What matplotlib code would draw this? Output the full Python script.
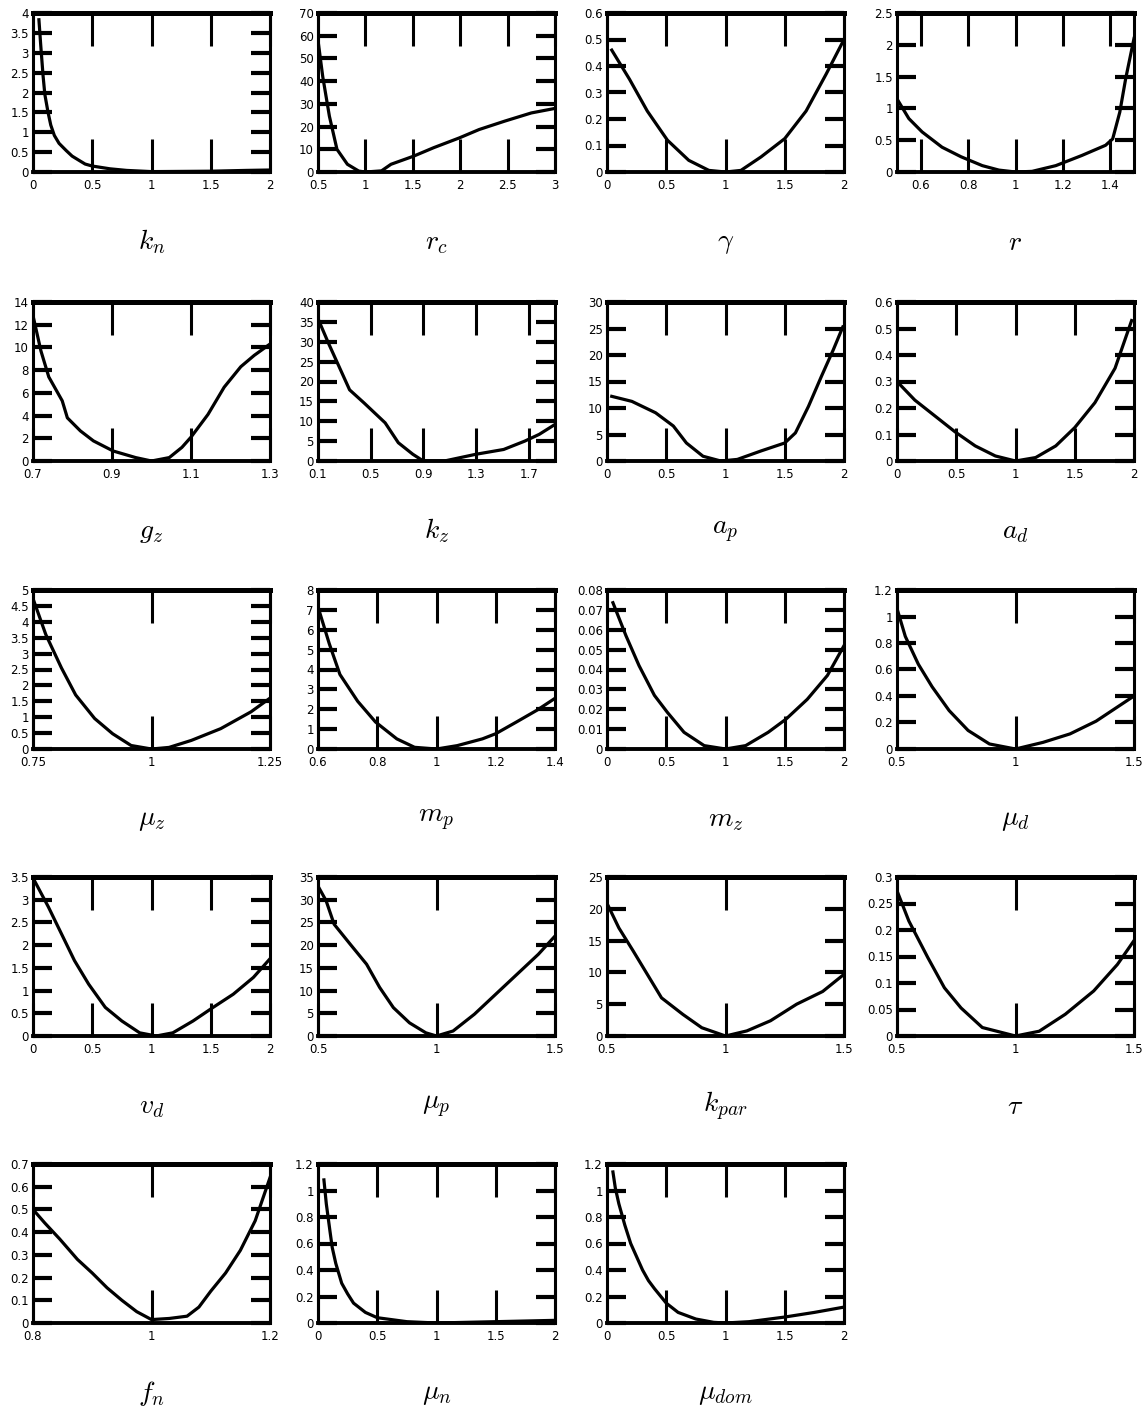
import matplotlib
matplotlib.use("Agg")
import matplotlib.pyplot as plt
from matplotlib.ticker import FixedLocator, FuncFormatter

plt.rcParams['font.family'] = ['Liberation Sans Narrow', 'DejaVu Sans']
plt.rcParams['mathtext.fontset'] = 'cm'

# ---- data, one panel per block ----
kn_x = [0.05, 0.065, 0.085, 0.1, 0.127, 0.15, 0.18, 0.22, 0.28, 0.33, 0.39, 0.44, 0.5, 0.65, 0.79, 1.0, 1.5, 1.8, 2.0]
kn_y = [3.83, 3.2, 2.42, 1.95, 1.5, 1.18, 0.92, 0.72, 0.54, 0.4, 0.29, 0.2, 0.15, 0.08, 0.04, 0.01, 0.02, 0.04, 0.05]

rc_x = [0.5, 0.55, 0.62, 0.7, 0.81, 0.93, 1.0, 1.17, 1.27, 1.51, 1.72, 1.99, 2.2, 2.47, 2.75, 3.0]
rc_y = [58, 42, 24.6, 10, 3.4, 0.4, 0, 0.5, 3.4, 7, 10.7, 15, 18.7, 22.4, 26, 28]

gam_x = [0.04, 0.19, 0.34, 0.51, 0.69, 0.86, 1.0, 1.13, 1.3, 1.5, 1.68, 1.85, 2.0]
gam_y = [0.46, 0.35, 0.23, 0.12, 0.044, 0.006, 0, 0.006, 0.057, 0.126, 0.23, 0.37, 0.5]

r_x = [0.5, 0.55, 0.606, 0.69, 0.77, 0.86, 0.93, 1.0, 1.07, 1.17, 1.28, 1.38, 1.41, 1.44, 1.465, 1.5]
r_y = [1.15, 0.84, 0.63, 0.39, 0.24, 0.1, 0.03, 0, 0.01, 0.1, 0.26, 0.42, 0.52, 0.94, 1.47, 2.1]

gz_x = [0.7, 0.72, 0.74, 0.774, 0.787, 0.82, 0.853, 0.903, 0.96, 1.0, 1.045, 1.077, 1.1, 1.143, 1.184, 1.226, 1.26, 1.3]
gz_y = [12.8, 9.7, 7.4, 5.3, 3.8, 2.65, 1.77, 0.88, 0.3, 0, 0.3, 1.2, 2.1, 4.1, 6.5, 8.3, 9.3, 10.3]

kz_x = [0.1, 0.18, 0.26, 0.34, 0.45, 0.61, 0.71, 0.82, 0.9, 1.06, 1.3, 1.51, 1.67, 1.78, 1.9]
kz_y = [35.8, 29.6, 23.75, 17.9, 14.6, 9.6, 4.6, 1.7, 0, 0, 1.7, 2.9, 5, 6.7, 9.2]

ap_x = [0.04, 0.21, 0.41, 0.56, 0.67, 0.81, 0.96, 1.1, 1.3, 1.5, 1.59, 1.7, 1.81, 1.91, 1.99]
ap_y = [12.2, 11.25, 9.1, 6.6, 3.4, 0.9, 0, 0.3, 1.9, 3.4, 5.3, 10.3, 16, 21, 25.3]

ad_x = [0.0, 0.15, 0.32, 0.49, 0.66, 0.83, 1.0, 1.17, 1.34, 1.5, 1.67, 1.84, 1.98]
ad_y = [0.3, 0.23, 0.17, 0.11, 0.057, 0.019, 0, 0.013, 0.057, 0.126, 0.22, 0.35, 0.53]

muz_x = [0.75, 0.777, 0.81, 0.84, 0.88, 0.918, 0.957, 1.0, 1.037, 1.084, 1.146, 1.21, 1.25]
muz_y = [4.73, 3.6, 2.55, 1.7, 0.96, 0.48, 0.11, 0, 0.05, 0.27, 0.64, 1.17, 1.6]

mp_x = [0.6, 0.638, 0.674, 0.734, 0.794, 0.866, 0.926, 1.0, 1.07, 1.155, 1.2, 1.27, 1.34, 1.4]
mp_y = [7.15, 5.3, 3.75, 2.4, 1.36, 0.51, 0.085, 0, 0.17, 0.51, 0.77, 1.36, 1.96, 2.55]

mz_x = [0.05, 0.16, 0.27, 0.4, 0.51, 0.65, 0.82, 1.0, 1.17, 1.36, 1.51, 1.69, 1.86, 2.0]
mz_y = [0.0736, 0.057, 0.042, 0.027, 0.0184, 0.0084, 0.0017, 0, 0.0017, 0.0084, 0.015, 0.025, 0.037, 0.052]

mud_x = [0.5, 0.535, 0.59, 0.648, 0.72, 0.8, 0.89, 1.0, 1.116, 1.23, 1.34, 1.5]
mud_y = [1.06, 0.85, 0.64, 0.47, 0.29, 0.14, 0.038, 0, 0.05, 0.114, 0.21, 0.4]

vd_x = [0.01, 0.13, 0.24, 0.35, 0.47, 0.61, 0.75, 0.9, 1.04, 1.18, 1.35, 1.52, 1.69, 1.86, 2.0]
vd_y = [3.43, 2.84, 2.25, 1.66, 1.14, 0.63, 0.33, 0.07, 0, 0.07, 0.33, 0.63, 0.92, 1.29, 1.7]

mup_x = [0.5, 0.534, 0.568, 0.636, 0.705, 0.76, 0.818, 0.886, 0.955, 1.0, 1.07, 1.16, 1.25, 1.34, 1.43, 1.5]
mup_y = [33, 29.8, 24.6, 20.2, 15.8, 10.7, 6.25, 2.9, 0.7, 0, 1.1, 4.8, 9.2, 13.6, 18, 22]

kpar_x = [0.506, 0.55, 0.61, 0.67, 0.73, 0.82, 0.9, 1.0, 1.09, 1.19, 1.3, 1.41, 1.5]
kpar_y = [20.4, 17, 13.4, 9.7, 6, 3.4, 1.3, 0, 0.8, 2.4, 5, 7, 9.7]

tau_x = [0.5, 0.55, 0.63, 0.7, 0.77, 0.86, 1.0, 1.1, 1.21, 1.33, 1.43, 1.5]
tau_y = [0.274, 0.217, 0.148, 0.091, 0.053, 0.016, 0, 0.009, 0.041, 0.085, 0.135, 0.18]

fn_x = [0.8, 0.82, 0.845, 0.875, 0.9, 0.925, 0.95, 0.975, 1.0, 1.03, 1.06, 1.08, 1.1, 1.125, 1.15, 1.175, 1.2]
fn_y = [0.5, 0.44, 0.37, 0.28, 0.22, 0.155, 0.1, 0.05, 0.015, 0.02, 0.03, 0.07, 0.14, 0.22, 0.32, 0.45, 0.64]

mun_x = [0.05, 0.07, 0.1, 0.12, 0.15, 0.2, 0.25, 0.3, 0.4, 0.5, 0.75, 1.0, 1.5, 2.0]
mun_y = [1.08, 0.9, 0.7, 0.57, 0.45, 0.3, 0.22, 0.15, 0.08, 0.04, 0.01, 0.0, 0.01, 0.02]

mudom_x = [0.05, 0.07, 0.1, 0.15, 0.2, 0.25, 0.3, 0.35, 0.4, 0.5, 0.6, 0.75, 0.9, 1.0, 1.2, 1.5, 1.75, 2.0]
mudom_y = [1.14, 1.02, 0.9, 0.74, 0.6, 0.5, 0.4, 0.32, 0.26, 0.15, 0.08, 0.03, 0.005, 0, 0.01, 0.045, 0.08, 0.12]

# per panel: curve, label, xlim, xticks, y top, y step
panels = [
    (kn_x, kn_y, r"$k_n$", (0, 2), [0, 0.5, 1, 1.5, 2], 4, 0.5),
    (rc_x, rc_y, r"$r_c$", (0.5, 3), [0.5, 1, 1.5, 2, 2.5, 3], 70, 10),
    (gam_x, gam_y, r"$\gamma$", (0, 2), [0, 0.5, 1, 1.5, 2], 0.6, 0.1),
    (r_x, r_y, r"$r$", (0.5, 1.5), [0.6, 0.8, 1, 1.2, 1.4], 2.5, 0.5),
    (gz_x, gz_y, r"$g_z$", (0.7, 1.3), [0.7, 0.9, 1.1, 1.3], 14, 2),
    (kz_x, kz_y, r"$k_z$", (0.1, 1.9), [0.1, 0.5, 0.9, 1.3, 1.7], 40, 5),
    (ap_x, ap_y, r"$a_p$", (0, 2), [0, 0.5, 1, 1.5, 2], 30, 5),
    (ad_x, ad_y, r"$a_d$", (0, 2), [0, 0.5, 1, 1.5, 2], 0.6, 0.1),
    (muz_x, muz_y, r"$\mu_z$", (0.75, 1.25), [0.75, 1, 1.25], 5, 0.5),
    (mp_x, mp_y, r"$m_p$", (0.6, 1.4), [0.6, 0.8, 1, 1.2, 1.4], 8, 1),
    (mz_x, mz_y, r"$m_z$", (0, 2), [0, 0.5, 1, 1.5, 2], 0.08, 0.01),
    (mud_x, mud_y, r"$\mu_d$", (0.5, 1.5), [0.5, 1, 1.5], 1.2, 0.2),
    (vd_x, vd_y, r"$v_d$", (0, 2), [0, 0.5, 1, 1.5, 2], 3.5, 0.5),
    (mup_x, mup_y, r"$\mu_p$", (0.5, 1.5), [0.5, 1, 1.5], 35, 5),
    (kpar_x, kpar_y, r"$k_{par}$", (0.5, 1.5), [0.5, 1, 1.5], 25, 5),
    (tau_x, tau_y, r"$\tau$", (0.5, 1.5), [0.5, 1, 1.5], 0.3, 0.05),
    (fn_x, fn_y, r"$f_n$", (0.8, 1.2), [0.8, 1, 1.2], 0.7, 0.1),
    (mun_x, mun_y, r"$\mu_n$", (0, 2), [0, 0.5, 1, 1.5, 2], 1.2, 0.2),
    (mudom_x, mudom_y, r"$\mu_{dom}$", (0, 2), [0, 0.5, 1, 1.5, 2], 1.2, 0.2),
]

W, H = 1144, 1412
fig = plt.figure(figsize=(W / 100, H / 100), dpi=100)

col_left = [33, 318, 607, 897]
row_top = [13, 302, 590, 877, 1164]
pw, ph = 237, 159

fmt = FuncFormatter(lambda v, p: f"{v:g}")

for i, (xs, ys, lab, xlim, xt, ytop, ystep) in enumerate(panels):
    r, c = divmod(i, 4)
    ax = fig.add_axes([col_left[c] / W, 1 - (row_top[r] + ph) / H, pw / W, ph / H])
    ax.plot(xs, ys, color="black", lw=2.3, solid_joinstyle="round")
    ax.set_xlim(*xlim)
    ax.set_ylim(0, ytop)
    ax.xaxis.set_major_locator(FixedLocator(xt))
    n = int(round(ytop / ystep))
    ax.yaxis.set_major_locator(FixedLocator([k * ystep for k in range(n + 1)]))
    ax.xaxis.set_major_formatter(fmt)
    ax.yaxis.set_major_formatter(fmt)
    ax.tick_params(axis="x", direction="in", top=True, bottom=True,
                   length=24, width=2.2, labelsize=8.5, pad=5)
    ax.tick_params(axis="y", direction="in", left=True, right=True,
                   length=14, width=3, labelsize=8.5, pad=3)
    ax.spines["top"].set_linewidth(3.6)
    ax.spines["bottom"].set_linewidth(2.8)
    ax.spines["left"].set_linewidth(2.2)
    ax.spines["right"].set_linewidth(2.2)
    ax.text(0.5, -70 / ph, lab, transform=ax.transAxes,
            ha="center", va="center", fontsize=20)

fig.savefig("out.png", dpi=100)
